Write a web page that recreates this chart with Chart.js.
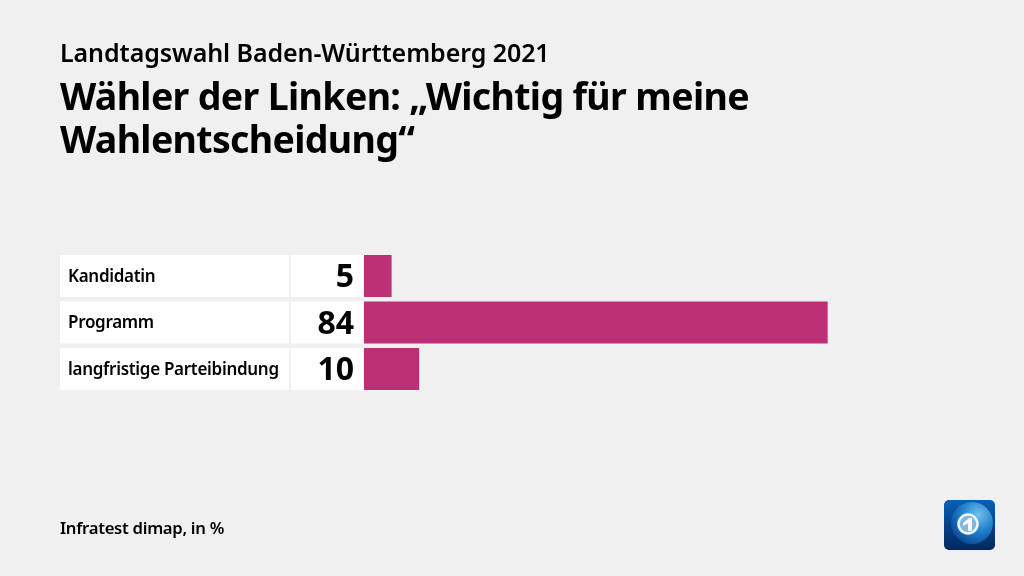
<!DOCTYPE html>
<html>
<head>
<meta charset="utf-8">
<title>Landtagswahl Baden-Württemberg 2021</title>
<script src="https://cdn.jsdelivr.net/npm/chart.js"></script>
<style>
    html, body { margin: 0; padding: 0; background: #f0f0f0; }
    body { width: 1024px; height: 576px; overflow: hidden; position: relative; font-family: "Noto Sans", sans-serif; color: #000; }
    #wrap { position: absolute; left: 0; top: 0; width: 1024px; height: 576px; }
    .txt { position: absolute; left: 60px; white-space: nowrap; }
    #sub { top: 36px; font-size: 25px; line-height: 32px; font-weight: 600; letter-spacing: -0.08px; }
    #title { top: 74px; font-size: 37.5px; line-height: 43px; font-weight: 700; letter-spacing: -0.66px; }
    #src { top: 517px; font-size: 16.7px; line-height: 22px; font-weight: 600; letter-spacing: -0.3px; }
    #logo { position: absolute; left: 944px; top: 500px; width: 51px; height: 50px; }
</style>
</head>
<body>
<div id="wrap"><canvas id="chart" width="1024" height="576"></canvas></div>
<div class="txt" id="sub">Landtagswahl Baden-Württemberg 2021</div>
<div class="txt" id="title">Wähler der Linken: „Wichtig für meine<br>Wahlentscheidung“</div>
<div class="txt" id="src">Infratest dimap, in %</div>
<svg id="logo" viewBox="0 0 51 50">
    <defs>
        <linearGradient id="bg" x1="0" y1="0" x2="0" y2="1">
            <stop offset="0" stop-color="#0a5fb4"/>
            <stop offset="1" stop-color="#04285f"/>
        </linearGradient>
        <radialGradient id="globe" cx="0.65" cy="0.3" r="0.75">
            <stop offset="0" stop-color="#6fc0ec"/>
            <stop offset="0.55" stop-color="#1f7fcb"/>
            <stop offset="1" stop-color="#0a4a98"/>
        </radialGradient>
    </defs>
    <rect width="51" height="50" rx="5" fill="url(#bg)"/>
    <circle cx="28" cy="23" r="21" fill="url(#globe)"/>
    <circle cx="24" cy="24" r="9.5" fill="#7fb8e0" stroke="#eef7fc" stroke-width="2.5"/>
    <path d="M19 23 L25 18 L28 18 L28 31 L24 31 L24 23.5 L19 26 Z" fill="#f4fafd"/>
</svg>
<script>
var categories = ['Kandidatin', 'Programm', 'langfristige Parteibindung'];
var values = [5, 84, 10];
var barColor = '#bd3075';

// white label cells left of the bars, placed from the category scale
var cellsPlugin = {
    id: 'cells',
    beforeDatasetsDraw: function(chart) {
        var ctx = chart.ctx;
        var y = chart.scales.y;
        var rowH = 42;
        ctx.save();
        categories.forEach(function(name, i) {
            var cy = y.getPixelForValue(i);
            var top = cy - rowH / 2;
            ctx.fillStyle = '#ffffff';
            ctx.fillRect(60, top, 229, rowH);
            ctx.fillRect(291, top, 72.5, rowH);

            ctx.fillStyle = '#000000';
            ctx.textBaseline = 'middle';
            ctx.textAlign = 'left';
            ctx.font = '600 17px "Noto Sans"';
            ctx.letterSpacing = '-0.3px';
            ctx.fillText(name, 68, cy + 1);

            ctx.textAlign = 'right';
            ctx.font = '700 32px "Noto Sans"';
            ctx.letterSpacing = '0px';
            ctx.fillText(String(values[i]), 354, cy + 2);
        });
        ctx.restore();
    }
};

new Chart(document.getElementById('chart').getContext('2d'), {
    type: 'bar',
    data: {
        labels: categories,
        datasets: [{
            data: values,
            backgroundColor: barColor,
            borderWidth: 0,
            categoryPercentage: 1,
            barPercentage: 42 / 46.5
        }]
    },
    options: {
        indexAxis: 'y',
        responsive: false,
        animation: false,
        // chart area runs x 364-916 (0-100) and y 252.75-392.25
        layout: { padding: { left: 364, right: 108, top: 252.75, bottom: 183.75 } },
        plugins: { legend: { display: false }, title: { display: false }, tooltip: { enabled: false } },
        scales: {
            x: { display: false, min: 0, max: 100 },
            y: { display: false, grid: { display: false } }
        }
    },
    plugins: [cellsPlugin]
});
</script>
</body>
</html>
